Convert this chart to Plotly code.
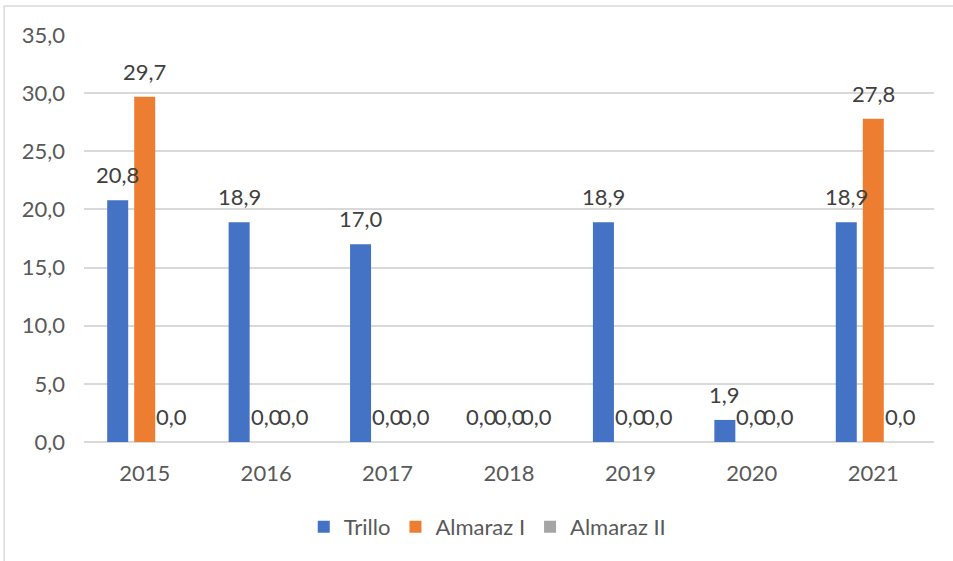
import plotly.graph_objects as go

years = ["2015", "2016", "2017", "2018", "2019", "2020", "2021"]
series_names = ["Trillo", "Almaraz I", "Almaraz II"]
trillo = [20.8, 18.9, 17.0, 0.0, 18.9, 1.9, 18.9]
almaraz1 = [29.7, 0.0, 0.0, 0.0, 0.0, 0.0, 27.8]
almaraz2 = [0.0, 0.0, 0.0, 0.0, 0.0, 0.0, 0.0]
colors = ["#4472C4", "#ED7D31", "#A5A5A5"]
y_ticks = [0, 5, 10, 15, 20, 25, 30, 35]

values = [trillo, almaraz1, almaraz2]
FONT = "Lato"
FS = 22
TXT = "#595959"

slot = 0.2224   # category-unit spacing between grouped bars
bar_w = 0.173

fig = go.Figure()
idx = list(range(len(years)))
for i, (name, vals, col) in enumerate(zip(series_names, values, colors)):
    xs = [j + (i - 1) * slot for j in idx]
    fig.add_trace(go.Bar(x=xs, y=vals, name=name, marker=dict(color=col, line=dict(width=0)),
                         width=bar_w))
    for x, v in zip(xs, vals):
        fig.add_annotation(x=x, y=v, xref="x", yref="y", text=f"{v:.1f}".replace(".", ","),
                           showarrow=False, yanchor="bottom", yshift=10,
                           font=dict(family=FONT, size=FS, color="#404040"))

# outer chart border (starts at page px (4,6) and runs past the right/bottom edges)
fig.add_shape(type="rect", xref="paper", yref="paper", x0=-0.094, x1=1.2, y0=-0.6, y1=1.0713,
              line=dict(color="#D9D9D9", width=1.5), fillcolor="rgba(0,0,0,0)", layer="below")

fig.update_layout(
    width=953, height=561,
    margin=dict(l=84, r=19, t=35, b=119),
    paper_bgcolor="white", plot_bgcolor="white",
    barmode="overlay",
    separators=",.",
    font=dict(family=FONT, size=FS, color=TXT),
    showlegend=True,
    legend=dict(orientation="h", x=0.475, xanchor="center", y=-0.157, yanchor="top",
                font=dict(family=FONT, size=FS, color=TXT), itemwidth=30,
                traceorder="normal", bgcolor="rgba(0,0,0,0)"),
    xaxis=dict(range=[-0.5, len(years) - 0.5], tickvals=idx, ticktext=years,
               showgrid=False, zeroline=False, showline=False, ticks="",
               ticklabelstandoff=16, tickfont=dict(family=FONT, size=FS, color=TXT)),
    yaxis=dict(range=[0, 35], tickvals=y_ticks, tickformat=".1f",
               showgrid=True, gridcolor="#D9D9D9", gridwidth=1.5,
               zeroline=True, zerolinecolor="#D9D9D9", zerolinewidth=1.5,
               showline=False, ticks="", ticklabelstandoff=18,
               tickfont=dict(family=FONT, size=FS, color=TXT)),
)

fig.write_html("out.html", config={"displayModeBar": False},
               post_script="document.body.style.margin='0';")
